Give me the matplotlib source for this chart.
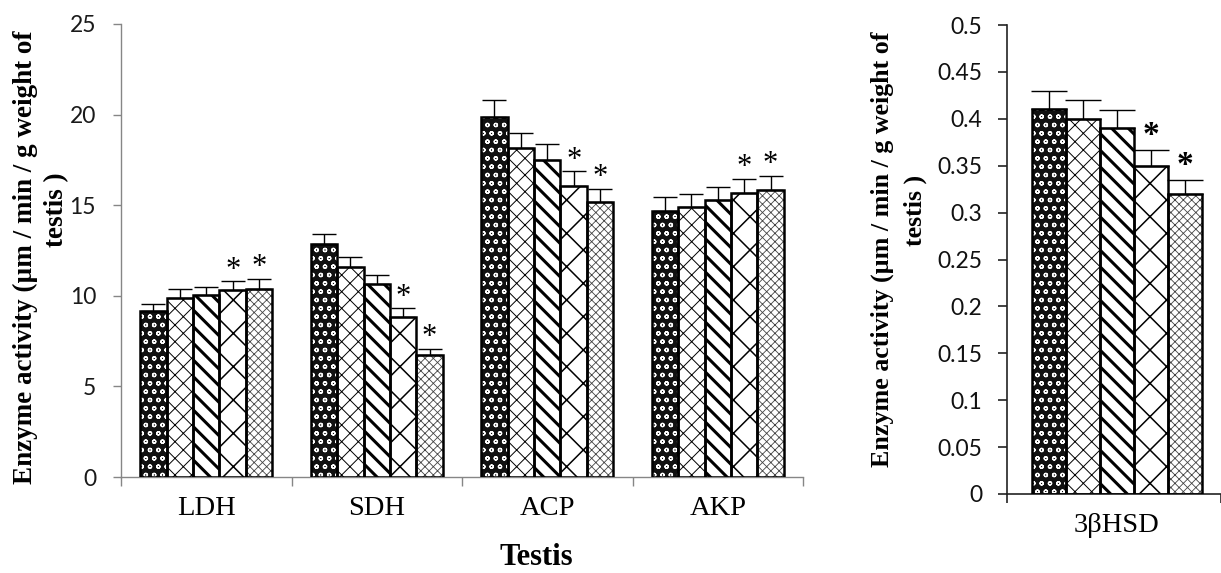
import numpy as np
import matplotlib
matplotlib.use("Agg")
import matplotlib.pyplot as plt
from matplotlib.ticker import FuncFormatter

# values (mean, upper error), 5 treatment groups each
groups = ["LDH", "SDH", "ACP", "AKP"]
ldh_mean = [9.15, 9.9, 10.05, 10.3, 10.4]
ldh_err = [0.42, 0.46, 0.46, 0.5, 0.53]
sdh_mean = [12.85, 11.6, 10.65, 8.85, 6.75]
sdh_err = [0.57, 0.52, 0.52, 0.46, 0.32]
acp_mean = [19.85, 18.15, 17.5, 16.05, 15.15]
acp_err = [0.93, 0.86, 0.88, 0.83, 0.75]
akp_mean = [14.7, 14.9, 15.3, 15.65, 15.85]
akp_err = [0.73, 0.72, 0.73, 0.82, 0.77]

hsd_label = "3βHSD"
hsd_mean = [0.41, 0.40, 0.39, 0.35, 0.32]
hsd_err = [0.02, 0.02, 0.019, 0.017, 0.015]

signif = [False, False, False, True, True]

ylab1 = "Enzyme activity (µm / min / g weight of"
ylab2 = "testis )"

# face colour, hatch colour, hatch, hatch linewidth for the 5 series
styles = [
    ("#111111", "white", "oo", 0.9),
    ("white", "black", "xx", 0.7),
    ("white", "black", "\\\\", 2.2),
    ("white", "black", "x", 1.1),
    ("white", "#444444", "xxxx", 0.6),
]

SERIF = "Liberation Serif"
SANS = "Lato"


def draw_bars(ax, centers, means, errs, width, capsize, star_fs, star_w, star_off):
    means = np.asarray(means, dtype=float)
    errs = np.asarray(errs, dtype=float)
    for j, (face, hc, hatch, hlw) in enumerate(styles):
        x = centers + (j - 2) * width
        h = means[:, j]
        e = errs[:, j]
        plt.rcParams["hatch.linewidth"] = hlw
        bars = ax.bar(x, h, width, color=face, edgecolor=hc, hatch=hatch,
                      linewidth=0, zorder=2)
        for b in bars:
            if hasattr(b, "set_hatch_linewidth"):
                b.set_hatch_linewidth(hlw)
        ax.bar(x, h, width, fill=False, edgecolor="black", linewidth=1.8, zorder=3)
        ax.errorbar(x, h, yerr=[np.zeros_like(e), e], fmt="none", ecolor="black",
                    elinewidth=1.0, capsize=capsize, capthick=1.0, zorder=4)
        if signif[j]:
            for xi, top in zip(x, h + e):
                ax.annotate("*", xy=(xi, top), xytext=(0, star_off),
                            textcoords="offset points", ha="center", va="center",
                            fontsize=star_fs, fontweight=star_w, family=SERIF)


fig = plt.figure(figsize=(12.21, 5.73), dpi=100)

# ---- left panel: testis enzymes
ax1 = fig.add_axes([121 / 1221, 96 / 573, 682 / 1221, 453 / 573])
centers = np.arange(len(groups), dtype=float)
draw_bars(ax1, centers,
          [ldh_mean, sdh_mean, acp_mean, akp_mean],
          [ldh_err, sdh_err, acp_err, akp_err],
          width=0.155, capsize=8.5, star_fs=22, star_w="normal", star_off=8)
ax1.set_xlim(-0.5, len(groups) - 0.5)
ax1.set_ylim(0, 25)
ax1.set_yticks(np.arange(0, 26, 5))
ax1.set_xticks(np.arange(-0.5, len(groups), 1.0))
ax1.set_xticklabels([])
ax1.set_xticks(centers, minor=True)
ax1.set_xticklabels(groups, minor=True, family=SERIF, fontsize=20.5)
ax1.tick_params(axis="x", which="minor", length=0, pad=13.5)
ax1.tick_params(axis="x", which="major", length=6.5, color="#868686", width=1)
ax1.tick_params(axis="y", length=6, color="#868686", width=1, pad=12,
                labelsize=16.5, labelcolor="#1a1a1a")
for lab in ax1.get_yticklabels():
    lab.set_family(SANS)
for s in ["top", "right"]:
    ax1.spines[s].set_visible(False)
for s in ["left", "bottom"]:
    ax1.spines[s].set_color("#868686")
    ax1.spines[s].set_linewidth(1)

# ---- right panel: 3beta HSD
ax2 = fig.add_axes([1007 / 1221, 79 / 573, 214 / 1221, 469 / 573])
draw_bars(ax2, np.array([0.014]), [hsd_mean], [hsd_err],
          width=0.159, capsize=13, star_fs=24, star_w="bold", star_off=10)
ax2.set_xlim(-0.5, 0.5)
ax2.set_ylim(0, 0.5)
ax2.set_yticks(np.arange(0, 0.501, 0.05))
ax2.yaxis.set_major_formatter(FuncFormatter(lambda v, p: f"{round(v, 2):g}"))
ax2.set_xticks([-0.5, 0.5])
ax2.set_xticklabels([])
ax2.set_xticks([0.014], minor=True)
ax2.set_xticklabels([hsd_label], minor=True, family=SERIF, fontsize=20.5)
ax2.tick_params(axis="x", which="minor", length=0, pad=14)
ax2.tick_params(axis="x", which="major", length=6.5, color="#222222", width=1.2)
ax2.tick_params(axis="y", length=6.5, color="#222222", width=1.2, pad=11.5,
                labelsize=16.5, labelcolor="#111111")
for lab in ax2.get_yticklabels():
    lab.set_family(SANS)
for s in ["top", "right"]:
    ax2.spines[s].set_visible(False)
for s in ["left", "bottom"]:
    ax2.spines[s].set_color("#222222")
    ax2.spines[s].set_linewidth(1.2)

# ---- axis titles
fig.text(536 / 1221, 8 / 573, "Testis", ha="center", va="baseline",
         fontsize=22, fontweight="bold", family=SERIF)
fig.text(25 / 1221, 1 - 257 / 573, ylab1, rotation=90, ha="center", va="center",
         fontsize=19.5, fontweight="bold", family=SERIF)
fig.text(57 / 1221, 1 - 210 / 573, ylab2, rotation=90, ha="center", va="center",
         fontsize=19.5, fontweight="bold", family=SERIF)
fig.text(882 / 1221, 1 - 249 / 573, ylab1, rotation=90, ha="center", va="center",
         fontsize=18.7, fontweight="bold", family=SERIF)
fig.text(915 / 1221, 1 - 210 / 573, ylab2, rotation=90, ha="center", va="center",
         fontsize=18.7, fontweight="bold", family=SERIF)

fig.savefig("out.png", dpi=100)
